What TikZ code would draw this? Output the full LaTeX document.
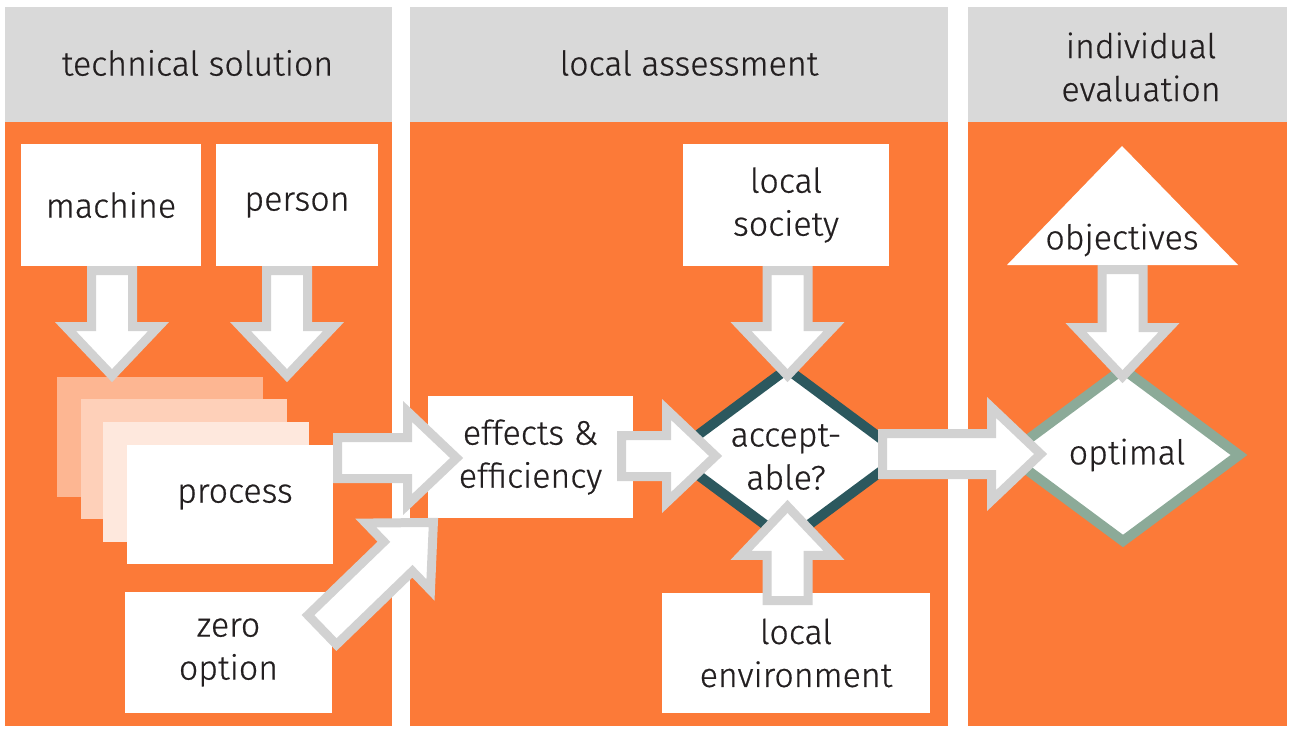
\documentclass[tikz,border=0pt]{standalone}
\usepackage{fontspec}
\setmainfont{Fira Sans Light}[FakeBold=0.6]
\usetikzlibrary{calc}
\definecolor{orng}{RGB}{252,122,56}
\definecolor{hdrgray}{RGB}{217,217,217}
\definecolor{agray}{RGB}{210,210,210}
\definecolor{dteal}{RGB}{44,88,94}
\definecolor{sage}{RGB}{140,170,152}
\definecolor{txt}{RGB}{35,31,32}
\tikzset{
  lbl/.style={text=txt, align=center, inner sep=0pt, font=\fontsize{34}{43}\selectfont},
  box/.style={lbl, fill=white},
  fatarr/.style={draw=agray, fill=white, line width=9pt, line join=miter, miter limit=10},
}
\newcommand\fatarrow[2]{%
  \draw[fatarr] let \p1=($(#1)!4.5pt!(#2)$), \p2=($(#2)!6.4pt!(#1)$), \p3=($(\p2)!49pt!(\p1)$) in
    ($(\p1)!20.5pt!90:(\p2)$) -- ($(\p3)!20.5pt!90:(\p2)$) -- ($(\p3)!46.5pt!90:(\p2)$) -- (\p2)
    -- ($(\p3)!46.5pt!-90:(\p2)$) -- ($(\p3)!20.5pt!-90:(\p2)$) -- ($(\p1)!20.5pt!-90:(\p2)$) -- cycle;}
\begin{document}
\begin{tikzpicture}[x=1pt,y=-1pt]
\useasboundingbox (0,0) rectangle (1290,731);
\fill[white] (0,0) rectangle (1290,731);
% panels
\fill[orng] (5,122) rectangle (392,726);
\fill[orng] (410,122) rectangle (948,726);
\fill[orng] (968,122) rectangle (1287,726);
\fill[hdrgray] (5,7) rectangle (392,122);
\fill[hdrgray] (410,7) rectangle (948,122);
\fill[hdrgray] (968,7) rectangle (1287,122);
\node[lbl] (h1) at (197.5,63) {technical solution};
\node[lbl] (h2) at (689,63) {local assessment};
\node[lbl] (h3) at (1141,67) {individual\\evaluation};
% boxes
\node[box, minimum width=180pt, minimum height=122pt] (machine) at (111,205) {machine};
\node[box, minimum width=162pt, minimum height=122pt] (person) at (297,205) {person};
\fill[orng!55!white] (57,377) rectangle (263,497);
\fill[orng!35!white] (81,399) rectangle (287,519);
\fill[orng!17!white] (103,422) rectangle (309,542);
\node[box, minimum width=206pt, minimum height=119pt] (proc) at (230,504.5) {};
\node[lbl] (proctext) at (235,497) {process};
\node[box, minimum width=207pt, minimum height=121pt] (zero) at (228.5,652.5) {zero\\option};
\node[box, minimum width=205pt, minimum height=122pt] (eff) at (530.5,457) {effects \&\\efficiency};
\node[box, minimum width=206pt, minimum height=122pt] (soc) at (786,205) {local\\society};
\node[box, minimum width=268pt, minimum height=120pt] (env) at (796,653) {local\\environment};
% diamonds
\filldraw[fill=white, draw=dteal, line width=10pt, line join=miter] (787,369) -- (903,455) -- (787,541) -- (671,455) -- cycle;
\node[lbl] (acc) at (786,457) {accept-\\able?};
\filldraw[fill=white, draw=sage, line width=10pt, line join=miter] (1123,369) -- (1239,455) -- (1123,541) -- (1007,455) -- cycle;
\node[lbl] (opt) at (1127,455) {optimal};
% triangle
\fill[white] (1122,146) -- (1238,265) -- (1007,265) -- cycle;
\node[lbl] (obj) at (1122,240) {objectives};
% arrow end points
\coordinate (ma) at (112,266);  \coordinate (mb) at (112,382);
\coordinate (pa) at (287,266);  \coordinate (pb) at (287,382);
\coordinate (ra) at (333,458);  \coordinate (rb) at (463,458);
\coordinate (za) at (319,633);  \coordinate (zb) at (438,518);
\coordinate (ea) at (617,456);  \coordinate (eb) at (722,456);
\coordinate (sa) at (787.5,266); \coordinate (sb) at (787.5,382);
\coordinate (va) at (787.5,605); \coordinate (vb) at (787.5,500);
\coordinate (aa) at (878,454);  \coordinate (ab) at (1047,454);
\coordinate (oa) at (1122.5,265); \coordinate (ob) at (1122.5,383);
\fatarrow{ma}{mb}
\fatarrow{pa}{pb}
\fatarrow{ra}{rb}
\fatarrow{za}{zb}
\fatarrow{ea}{eb}
\fatarrow{sa}{sb}
\fatarrow{va}{vb}
\fatarrow{aa}{ab}
\fatarrow{oa}{ob}
\end{tikzpicture}
\end{document}
